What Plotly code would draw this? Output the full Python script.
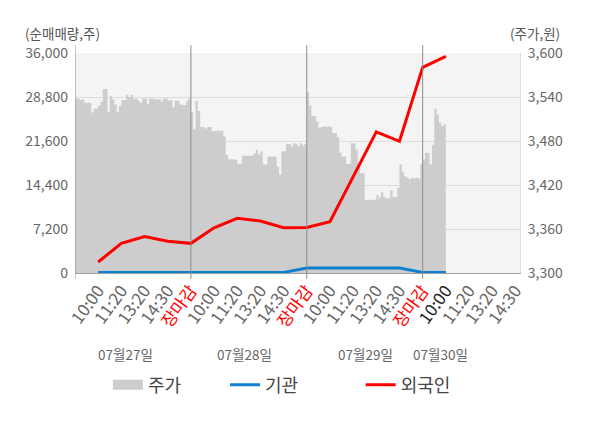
import numpy as np
import plotly.graph_objects as go

FONT = "Noto Sans CJK KR"

# ---------------- data ----------------
dates = ["07월27일", "07월28일", "07월29일", "07월30일"]
date_label_pos = [2.16, 7.33, 12.52, 15.77]
slot_labels = ["10:00", "11:20", "13:20", "14:30", "장마감"]
day4_labels = ["10:00", "11:20", "13:20", "14:30"]

# net buying (shares) at each time slot, 16 slots
foreign_net = [1800, 4850, 5950, 5200, 4850,
               7400, 8950, 8500, 7400, 7450,
               8400, 15700, 23100, 21550, 33650,
               35450]
inst_net = [100, 100, 100, 100, 100,
            100, 100, 100, 100, 800,
            800, 800, 800, 800, 100,
            100]

# intraday price (won), sampled every 0.1 slot
price_day1 = [3538, 3538, 3536, 3537, 3532, 3532, 3532, 3519, 3524, 3524,
              3528, 3534, 3551, 3551, 3520, 3541, 3537, 3530, 3520, 3528,
              3536, 3536, 3543, 3540, 3543, 3538, 3538, 3535, 3532, 3538,
              3538, 3530, 3538, 3538, 3537, 3537, 3537, 3534, 3538, 3538,
              3535, 3536, 3526, 3535, 3535, 3530, 3529, 3529, 3535, 3538]
price_day2 = [3519, 3496, 3535, 3521, 3499, 3499, 3497, 3499, 3499, 3493,
              3494, 3494, 3494, 3494, 3486, 3461, 3455, 3455, 3455, 3454,
              3449, 3449, 3460, 3460, 3460, 3460, 3460, 3463, 3468, 3462,
              3466, 3448, 3448, 3459, 3459, 3459, 3459, 3445, 3434, 3466,
              3466, 3476, 3476, 3473, 3477, 3476, 3473, 3477, 3474, 3476]
price_day3 = [3546, 3528, 3514, 3514, 3507, 3498, 3499, 3500, 3499, 3500,
              3499, 3491, 3491, 3485, 3464, 3459, 3459, 3449, 3449, 3477,
              3477, 3468, 3448, 3436, 3436, 3400, 3400, 3400, 3400, 3400,
              3406, 3403, 3410, 3404, 3402, 3402, 3413, 3404, 3404, 3416,
              3448, 3438, 3432, 3430, 3428, 3430, 3429, 3430, 3429, 3448]
price_day4 = [3455, 3464, 3464, 3448, 3475, 3524, 3516, 3505, 3500, 3503, 3503]

left_ticks = [0, 7200, 14400, 21600, 28800, 36000]
right_ticks = [3300, 3360, 3420, 3480, 3540, 3600]

# ---------------- derived ----------------
price = price_day1 + price_day2 + price_day3 + price_day4
price_x = np.arange(len(price)) * 0.1
slot_x = np.arange(1, len(foreign_net) + 1)
SLOTS_PER_DAY = len(slot_labels)
X_MAX = 3 * SLOTS_PER_DAY + len(day4_labels) + 0.2

tickvals, ticktext = [], []
for d in range(3):
    for k, lab in enumerate(slot_labels):
        tickvals.append(d * SLOTS_PER_DAY + k + 1)
        if lab == "장마감":
            ticktext.append('<span style="color:#ff0000">%s</span>' % lab)
        else:
            ticktext.append(lab)
for k, lab in enumerate(day4_labels):
    tickvals.append(3 * SLOTS_PER_DAY + k + 1)
    ticktext.append('<span style="color:#222222">%s</span>' % lab if k == 0 else lab)

GREY = "#cdcdcd"
BLUE = "#0d80d0"
RED = "#ff0000"

fig = go.Figure()
fig.add_trace(go.Scatter(
    x=price_x, y=price, mode="lines", line=dict(width=0, shape="hv", color=GREY),
    fill="tozeroy", fillcolor=GREY, showlegend=False, hoverinfo="skip", yaxis="y"))
fig.add_trace(go.Scatter(
    x=[None], y=[None], mode="lines", line=dict(color=GREY, width=10),
    name="주가", legend="legend", yaxis="y"))
fig.add_trace(go.Scatter(
    x=slot_x, y=inst_net, mode="lines", line=dict(color=BLUE, width=3),
    name="기관", legend="legend2", yaxis="y2"))
fig.add_trace(go.Scatter(
    x=slot_x, y=foreign_net, mode="lines", line=dict(color=RED, width=3),
    name="외국인", legend="legend3", yaxis="y2"))

shapes = []
for d in range(4):
    shapes.append(dict(type="line", xref="x", yref="paper",
                       x0=d * SLOTS_PER_DAY, x1=d * SLOTS_PER_DAY, y0=-0.027, y1=1.035,
                       line=dict(color="#8c8c8c", width=1), layer="above"))

annotations = []
for pos, lab in zip(date_label_pos, dates):
    annotations.append(dict(x=pos, y=-0.368, xref="x", yref="paper", text=lab,
                            showarrow=False, xanchor="center", yanchor="middle",
                            font=dict(family=FONT, size=13.5, color="#666666")))
annotations.append(dict(x=-0.1175, y=1.091, xref="paper", yref="paper", text="(순매매량,주)",
                        showarrow=False, xanchor="left", yanchor="middle",
                        font=dict(family=FONT, size=13.5, color="#555555")))
annotations.append(dict(x=1.094, y=1.091, xref="paper", yref="paper", text="(주가,원)",
                        showarrow=False, xanchor="right", yanchor="middle",
                        font=dict(family=FONT, size=13.5, color="#555555")))

legend_common = dict(orientation="h", yanchor="middle", xanchor="left", y=-0.509,
                     bgcolor="rgba(0,0,0,0)", font=dict(family=FONT, size=18, color="#444444"),
                     itemclick=False, itemdoubleclick=False)

# the page body adds an 8px offset, so the figure is 8px smaller and margins shifted
fig.update_layout(
    width=592, height=420,
    margin=dict(l=67, r=80, t=45, b=155, autoexpand=False),
    paper_bgcolor="white", plot_bgcolor="#f4f4f4",
    font=dict(family=FONT, color="#666666"),
    xaxis=dict(range=[0, X_MAX], tickvals=tickvals, ticktext=ticktext, tickangle=-54,
               tickfont=dict(family=FONT, size=17, color="#666666"),
               showgrid=False, zeroline=False, showline=True, linecolor="#a0a0a0",
               ticks="", automargin=False),
    yaxis=dict(range=[3300, 3600], tickvals=right_ticks, tickformat=",", side="right",
               showgrid=True, gridcolor="#dddddd", zeroline=False,
               showline=True, linecolor="#dddddd", ticks="", automargin=False,
               tickfont=dict(family=FONT, size=14, color="#666666"), ticklabelstandoff=4),
    yaxis2=dict(range=[0, 36000], tickvals=left_ticks, tickformat=",", side="left",
                overlaying="y", showgrid=False, zeroline=False, showline=False, ticks="",
                automargin=False,
                tickfont=dict(family=FONT, size=14, color="#666666"), ticklabelstandoff=6),
    shapes=shapes, annotations=annotations,
    legend=dict(legend_common, x=0.074),
    legend2=dict(legend_common, x=0.337),
    legend3=dict(legend_common, x=0.642),
    hovermode=False,
)

fig.write_html("out.html")
